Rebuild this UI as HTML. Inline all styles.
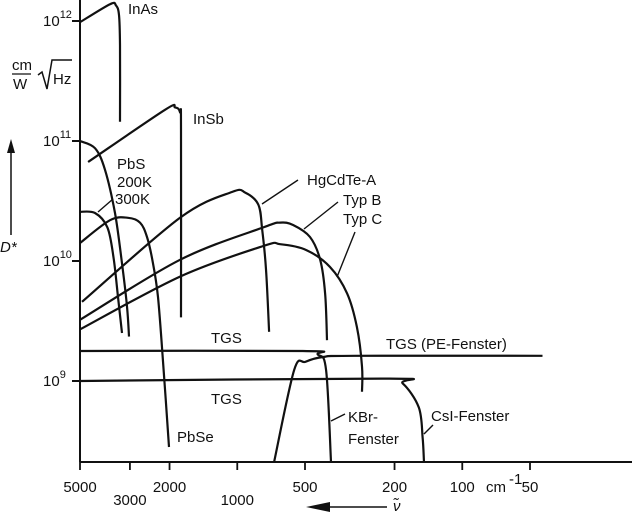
<!DOCTYPE html>
<html><head><meta charset="utf-8"><style>
body{margin:0;background:#fff}
svg{display:block}
text{font-family:"Liberation Sans",sans-serif;font-size:15px;fill:#111}
</style></head><body>
<svg id="chart" width="632" height="514" viewBox="0 0 632 514" xmlns="http://www.w3.org/2000/svg">
<g id="axes" stroke="#111" stroke-width="2" fill="none">
<line x1="80" y1="0" x2="80" y2="462"/>
<line x1="80" y1="462" x2="632" y2="462"/>
</g>
<g id="ticks"></g>
<g id="curves" stroke="#111" stroke-width="2.2" fill="none"></g>
<g stroke="#111" stroke-width="1.4">
<line x1="98" y1="212" x2="113" y2="199"/>
<line x1="262" y1="204" x2="298" y2="180"/>
<line x1="304" y1="229" x2="338" y2="202"/>
<line x1="337" y1="277" x2="355" y2="232"/>
<line x1="331" y1="421" x2="345" y2="414"/>
<line x1="424" y1="434" x2="433" y2="425"/>
</g>
<g>
<text x="128" y="14">InAs</text>
<text x="193" y="124">InSb</text>
<text x="117" y="169">PbS</text>
<text x="117" y="187">200K</text>
<text x="115" y="204">300K</text>
<text x="307" y="185">HgCdTe-A</text>
<text x="343" y="205">Typ B</text>
<text x="343" y="224">Typ C</text>
<text x="211" y="343">TGS</text>
<text x="211" y="404">TGS</text>
<text x="386" y="349">TGS (PE-Fenster)</text>
<text x="348" y="422">KBr-</text>
<text x="348" y="444">Fenster</text>
<text x="431" y="421">CsI-Fenster</text>
<text x="177" y="442">PbSe</text>
</g>
<g>
<text x="12" y="70" font-size="13">cm</text>
<line x1="12" y1="74" x2="31" y2="74" stroke="#111" stroke-width="1.3"/>
<text x="13" y="89" font-size="13">W</text>
<path d="M38 75 L42 72 L47 89 L52 60 L72 60" stroke="#111" stroke-width="1.5" fill="none"/>
<text x="53" y="84" font-size="15">Hz</text>
<line x1="11" y1="235" x2="11" y2="150" stroke="#111" stroke-width="1.5"/>
<path d="M11 139 L7 153 L15 153 Z" fill="#111"/>
<text x="0" y="252" font-size="15" font-style="italic">D*</text>
</g>
<g>
<line x1="330" y1="507" x2="387" y2="507" stroke="#111" stroke-width="1.5"/>
<path d="M306 507 L330 502 L330 512 Z" fill="#111"/>
<text x="393" y="511" font-size="16" font-style="italic">ν̃</text>
<text x="486" y="492" font-size="14">cm</text>
<text x="509" y="484" font-size="10">-1</text>
</g>
</svg>
<script>
const yTickExp=[9,10,11,12];
const xTickVals=[5000,3000,2000,1000,500,200,100,50];
const xTickLabels=["5000","3000","2000","1000","500","200","100","50"];
const xTickRow=[0,1,0,1,0,0,0,0];
const inas=[[5000,11.99],[3678,12.14],[3460,12.13],[3355,12.05],[3320,11.8],[3320,11.16]];
const insb=[[4600,10.825],[2095,11.26],[1890,11.28],[1796,11.24],[1778,11.1],[1778,9.53]];
const pbs200=[[5000,11.0],[4289,10.94],[3872,10.76],[3496,10.40],[3253,9.98],[3090,9.62],[3027,9.37]];
const pbs300=[[5000,10.41],[4289,10.40],[3778,10.28],[3548,10.03],[3389,9.70],[3253,9.40]];
const pbse=[[5000,10.15],[3678,10.34],[3058,10.36],[2706,10.32],[2519,10.20],[2368,9.98],[2251,9.70],[2140,9.175],[2010,8.45]];
const hgcdte=[[4900,9.66],[1796,10.36],[1057,10.575],[922,10.57],[806,10.47],[775,10.26],[745,9.93],[722,9.41]];
const typB=[[5000,9.51],[1796,10.01],[766,10.28],[645,10.32],[565,10.30],[475,10.20],[428,10.01],[407,9.73],[399,9.34]];
const typC=[[5000,9.43],[1796,9.87],[766,10.125],[645,10.14],[492,10.09],[387,9.95],[325,9.73],[294,9.45],[279,9.12],[279,8.91]];
const tgsKBr=[[5000,9.25],[511,9.25],[438,9.22],[403,9.09],[383,8.325]];
const tgsCsI=[[5000,9.0],[217,9.02],[184,8.98],[156,8.78],[150,8.53],[148,8.325]];
const tgsPE=[[686,8.325],[559,9.09],[497,9.16],[416,9.20],[300,9.21],[44,9.21]];

const NS="http://www.w3.org/2000/svg";
function xs(nu){return 80+225*Math.log10(5000/nu);}
function ys(e){return 381-120*(e-9);}
function mk(tag,attrs,parent){const el=document.createElementNS(NS,tag);for(const k in attrs)el.setAttribute(k,attrs[k]);parent.appendChild(el);return el;}

const ticks=document.getElementById('ticks');
yTickExp.forEach(e=>{
  const y=ys(e);
  const t=mk('line',{x1:72,y1:y,x2:80,y2:y,stroke:'#111','stroke-width':2},ticks);
  
  
  const tx=mk('text',{x:43,y:y+5},ticks);
  
  
  tx.textContent='10';
  const sup=mk('tspan',{dy:-8,'font-size':11},tx);
  sup.textContent=String(e);
});
xTickVals.forEach((v,i)=>{
  const x=xs(v);
  const t=mk('line',{x1:x,y1:462,x2:x,y2:470,stroke:'#111','stroke-width':1.8},ticks);
  
  
  const tx=mk('text',{x:x,y:xTickRow[i]?505:492,'text-anchor':'middle','font-size':14},ticks);
  
  
  tx.textContent=xTickLabels[i];
});

function pathD(data){
  const p=data.map(d=>[xs(d[0]),ys(d[1])]);
  let s='M'+p[0][0].toFixed(1)+' '+p[0][1].toFixed(1);
  for(let i=0;i<p.length-1;i++){
    const p0=p[i-1]||p[i],p1=p[i],p2=p[i+1],p3=p[i+2]||p2;
    const c1=[p1[0]+(p2[0]-p0[0])/6,p1[1]+(p2[1]-p0[1])/6];
    const c2=[p2[0]-(p3[0]-p1[0])/6,p2[1]-(p3[1]-p1[1])/6];
    s+=' C'+c1.map(v=>v.toFixed(1)).join(' ')+' '+c2.map(v=>v.toFixed(1)).join(' ')+' '+p2.map(v=>v.toFixed(1)).join(' ');
  }
  return s;
}
const curves=document.getElementById('curves');
const series=[['inas-curve',inas],['insb-curve',insb],['pbs-200k-curve',pbs200],['pbs-300k-curve',pbs300],['pbse-curve',pbse],['hgcdte-a-curve',hgcdte],['typ-b-curve',typB],['typ-c-curve',typC],['tgs-kbr-curve',tgsKBr],['tgs-csi-curve',tgsCsI],['tgs-pe-curve',tgsPE]];
series.forEach(s=>{
  const el=mk('path',{d:pathD(s[1])},curves);
  
  
});
</script>
</body></html>
